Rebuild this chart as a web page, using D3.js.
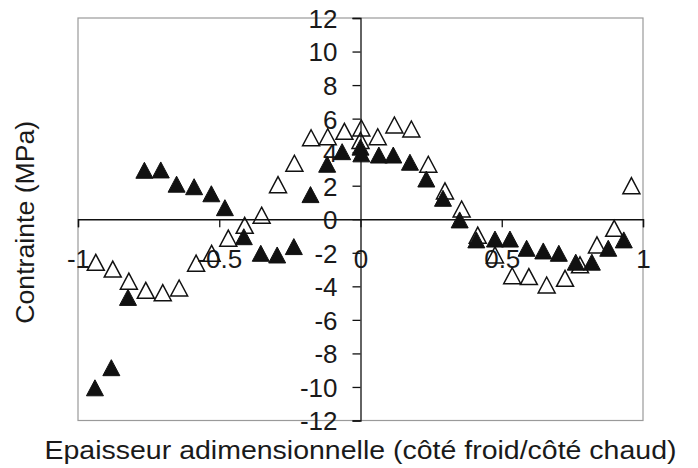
<!DOCTYPE html>
<html>
<head>
<meta charset="utf-8">
<script src="https://cdn.jsdelivr.net/npm/d3@7"></script>
<style>
  html, body { margin: 0; padding: 0; background: #fff; }
  svg { display: block; }
  text { font-family: "Liberation Sans", Arial, sans-serif; fill: #1a1a1a; }
</style>
</head>
<body>
<script>
// Stress profile through the dimensionless thickness (cold side / hot side)
const filledX = [-0.94, -0.882, -0.823, -0.765, -0.707, -0.651, -0.589, -0.528, -0.48, -0.413,
  -0.353, -0.295, -0.236, -0.177, -0.118, -0.065, 0.0, 0.003, 0.065, 0.116,
  0.175, 0.233, 0.292, 0.351, 0.41, 0.476, 0.529, 0.588, 0.647, 0.702,
  0.762, 0.819, 0.877, 0.932];
const filledY = [-10.05, -8.85, -4.66, 2.92, 2.94, 2.09, 1.94, 1.52, 0.69, -1.04,
  -2.03, -2.13, -1.63, 1.47, 3.28, 4.03, 4.3, 3.9, 3.83, 3.83,
  3.4, 2.4, 1.25, -0.04, -1.23, -1.18, -1.18, -1.73, -1.89, -2.03,
  -2.56, -2.56, -1.73, -1.23];

const openX = [-0.937, -0.877, -0.82, -0.76, -0.70, -0.642, -0.582, -0.527, -0.468, -0.41,
  -0.35, -0.292, -0.234, -0.175, -0.116, -0.057, 0.003, 0.0, 0.061, 0.12,
  0.18, 0.24, 0.299, 0.358, 0.415, 0.476, 0.537, 0.596, 0.659, 0.724,
  0.777, 0.837, 0.898, 0.959];
const openY = [-2.57, -2.97, -3.69, -4.24, -4.38, -4.1, -2.62, -2.03, -1.13, -0.36,
  0.24, 2.06, 3.34, 4.86, 4.92, 5.24, 5.44, 4.7, 4.92, 5.62,
  5.38, 3.28, 1.69, 0.61, -0.95, -2.13, -3.37, -3.42, -3.92, -3.52,
  -2.72, -1.53, -0.54, 2.0];

const xTicks = [-1, -0.5, 0, 0.5, 1];
const yTicks = [-12, -10, -8, -6, -4, -2, 0, 2, 4, 6, 8, 10, 12];
const xTitle = "Epaisseur adimensionnelle (côté froid/côté chaud)";
const yTitle = "Contrainte (MPa)";

const W = 698, H = 468;
const plotL = 78, plotR = 643, plotT = 18, plotB = 420.5;

const x = d3.scaleLinear().domain([-1, 1]).range([plotL, plotR]);
const y = d3.scaleLinear().domain([-12, 12]).range([plotB, plotT]);

const svg = d3.select("body").append("svg")
  .attr("width", W).attr("height", H);

// plot frame
svg.append("rect")
  .attr("x", plotL).attr("y", plotT)
  .attr("width", plotR - plotL).attr("height", plotB - plotT)
  .attr("fill", "none").attr("stroke", "#9a9a9a").attr("stroke-width", 1.2);

const fontSize = 26;
const fontFam = '"Liberation Sans", Arial, sans-serif';
const plainNum = d => String(d);   // hyphen-minus, as in the tick labels

// horizontal axis through y = 0, labels set lower
const xAxis = svg.append("g")
  .attr("transform", `translate(0,${y(0)})`)
  .call(d3.axisBottom(x).tickValues(xTicks).tickSize(8).tickPadding(0)
    .tickFormat(plainNum));
xAxis.select(".domain").attr("stroke", "#111").attr("stroke-width", 1.3);
xAxis.selectAll(".tick line").attr("stroke", "#111").attr("stroke-width", 1.3);
xAxis.selectAll(".tick text")
  .attr("y", 49).attr("dy", 0)
  .style("font-size", fontSize + "px")
  .style("font-family", fontFam)
  .attr("fill", "#1a1a1a");

// vertical axis through x = 0
const yAxis = svg.append("g")
  .attr("transform", `translate(${x(0)},0)`)
  .call(d3.axisLeft(y).tickValues(yTicks).tickSize(8).tickPadding(15)
    .tickFormat(plainNum));
yAxis.select(".domain").attr("stroke", "#111").attr("stroke-width", 1.3);
yAxis.selectAll(".tick line").attr("stroke", "#111").attr("stroke-width", 1.3);
yAxis.selectAll(".tick text")
  .attr("dy", "0.36em")
  .style("font-size", fontSize + "px")
  .style("font-family", fontFam)
  .attr("fill", "#1a1a1a");

// axis titles
svg.append("text")
  .attr("x", (plotL + plotR) / 2).attr("y", 459)
  .attr("text-anchor", "middle")
  .attr("textLength", 632).attr("lengthAdjust", "spacingAndGlyphs")
  .style("font-size", "26px")
  .text(xTitle);

svg.append("text")
  .attr("transform", `translate(34,${(plotT + plotB) / 2 + 3}) rotate(-90)`)
  .attr("text-anchor", "middle")
  .attr("textLength", 203).attr("lengthAdjust", "spacingAndGlyphs")
  .style("font-size", "26px")
  .text(yTitle);

// triangle marker, centred on its bounding box
const tw = 17, th = 16;
const tri = `M0,${-th / 2}L${tw / 2},${th / 2}L${-tw / 2},${th / 2}Z`;

const openPts = openX.map((v, i) => [v, openY[i]]);
const filledPts = filledX.map((v, i) => [v, filledY[i]]);

svg.append("g").selectAll("path").data(openPts).join("path")
  .attr("d", tri)
  .attr("transform", d => `translate(${x(d[0])},${y(d[1])})`)
  .attr("fill", "none").attr("stroke", "#111").attr("stroke-width", 1.5)
  .attr("stroke-linejoin", "miter");

svg.append("g").selectAll("path").data(filledPts).join("path")
  .attr("d", tri)
  .attr("transform", d => `translate(${x(d[0])},${y(d[1])})`)
  .attr("fill", "#111").attr("stroke", "#111").attr("stroke-width", 1);
</script>
</body>
</html>
